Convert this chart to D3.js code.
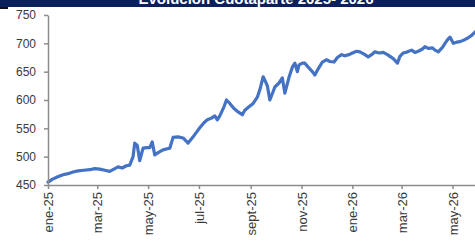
<!DOCTYPE html>
<html>
<head>
<meta charset="utf-8">
<script src="https://cdn.jsdelivr.net/npm/d3@7"></script>
<style>
  body { margin: 0; background: #fff; }
  svg { display: block; }
</style>
</head>
<body>
<div id="wrapper"></div>
<script>
const title = "Evolución Cuotaparte 2025- 2026"
const monthNames = ["ene", "feb", "mar", "abr", "may", "jun", "jul", "ago", "sept", "oct", "nov", "dic"]
const yTicks = [450, 500, 550, 600, 650, 700, 750]

const dates = [
  "2025-01-01", "2025-01-06", "2025-01-12", "2025-01-19", "2025-01-25", "2025-01-31",
  "2025-02-06", "2025-02-13", "2025-02-20", "2025-02-26", "2025-03-04", "2025-03-10",
  "2025-03-16", "2025-03-21", "2025-03-26", "2025-03-31", "2025-04-05", "2025-04-09",
  "2025-04-13", "2025-04-15", "2025-04-18", "2025-04-21", "2025-04-25", "2025-04-30",
  "2025-05-03", "2025-05-06", "2025-05-09", "2025-05-14", "2025-05-19", "2025-05-24",
  "2025-05-27", "2025-05-31", "2025-06-06", "2025-06-12", "2025-06-18", "2025-06-24",
  "2025-06-29", "2025-07-02", "2025-07-07", "2025-07-11", "2025-07-16", "2025-07-20",
  "2025-07-23", "2025-07-26", "2025-07-31", "2025-08-03", "2025-08-07", "2025-08-12",
  "2025-08-17", "2025-08-22", "2025-08-25", "2025-08-30", "2025-09-04", "2025-09-09",
  "2025-09-12", "2025-09-16", "2025-09-18", "2025-09-21", "2025-09-24", "2025-09-28",
  "2025-09-30", "2025-10-05", "2025-10-09", "2025-10-12", "2025-10-17", "2025-10-21",
  "2025-10-24", "2025-10-27", "2025-10-29", "2025-11-02", "2025-11-05", "2025-11-09",
  "2025-11-14", "2025-11-17", "2025-11-21", "2025-11-26", "2025-12-01", "2025-12-05",
  "2025-12-10", "2025-12-14", "2025-12-19", "2025-12-23", "2025-12-28", "2026-01-01",
  "2026-01-06", "2026-01-10", "2026-01-15", "2026-01-20", "2026-01-24", "2026-01-28",
  "2026-02-02", "2026-02-07", "2026-02-12", "2026-02-15", "2026-02-19", "2026-02-24",
  "2026-02-27", "2026-03-03", "2026-03-08", "2026-03-13", "2026-03-17", "2026-03-21",
  "2026-03-26", "2026-03-29", "2026-04-02", "2026-04-07", "2026-04-10", "2026-04-14",
  "2026-04-19", "2026-04-22", "2026-04-26", "2026-04-28", "2026-05-02", "2026-05-06",
  "2026-05-10", "2026-05-15", "2026-05-19", "2026-05-24", "2026-05-28"
]

const values = [
  455, 460, 464, 468, 470, 473,
  475, 476, 477, 479, 478, 476,
  474, 478, 482, 480, 484, 485,
  500, 524, 520, 493, 515, 516,
  516, 526, 503, 508, 512, 514,
  515, 534, 535, 533, 524, 535,
  545, 551, 560, 565, 568, 572,
  565, 572, 588, 600, 594, 585,
  579, 574, 582, 588, 594, 605,
  618, 641, 635, 625, 600, 615,
  623, 630, 639, 612, 640, 658,
  665, 650, 662, 665, 665, 658,
  650, 644, 655, 667, 671, 668,
  667, 675, 680, 678, 680, 683,
  686, 685, 681, 676, 680, 685,
  683, 684, 680, 677, 673, 665,
  677, 683, 685, 688, 684, 686,
  690, 694, 691, 692, 688, 685,
  693, 700, 708, 711, 700, 702,
  703, 706, 709, 714, 720
]

function drawChart() {
  const parseDate = d3.timeParse("%Y-%m-%d")
  const data = dates.map((d, i) => ({ date: parseDate(d), value: values[i] }))
  const xAccessor = d => d.date
  const yAccessor = d => d.value

  let dimensions = {
    width: 475,
    height: 245,
    margin: { top: 15, right: 0, bottom: 60, left: 48 }
  }
  dimensions.boundedWidth = dimensions.width - dimensions.margin.left - dimensions.margin.right
  dimensions.boundedHeight = dimensions.height - dimensions.margin.top - dimensions.margin.bottom

  const wrapper = d3.select("#wrapper")
    .append("svg")
      .attr("width", dimensions.width)
      .attr("height", dimensions.height)
      .style("font-family", "'Liberation Sans', Arial, sans-serif")

  // title band, cut off at the top edge like the source image
  wrapper.append("rect")
      .attr("x", 0).attr("y", 0)
      .attr("width", dimensions.width).attr("height", 7)
      .attr("fill", "#0a1f5c")
  wrapper.append("rect")
      .attr("x", 0).attr("y", 7)
      .attr("width", 8).attr("height", 2)
      .attr("fill", "#111")
  wrapper.append("text")
      .attr("x", 256)
      .attr("y", 4)
      .attr("text-anchor", "middle")
      .attr("fill", "#fff")
      .style("font-weight", "bold")
      .style("font-size", "15px")
      .text(title)

  const bounds = wrapper.append("g")
      .attr("transform", `translate(${dimensions.margin.left},${dimensions.margin.top})`)

  const xScale = d3.scaleTime()
    .domain(d3.extent(data, xAccessor))
    .range([0, dimensions.boundedWidth])

  const yScale = d3.scaleLinear()
    .domain([d3.min(yTicks), d3.max(yTicks)])
    .range([dimensions.boundedHeight, 0])

  const lineGenerator = d3.line()
    .x(d => xScale(xAccessor(d)))
    .y(d => yScale(yAccessor(d)))

  bounds.append("path")
      .datum(data)
      .attr("d", lineGenerator)
      .attr("fill", "none")
      .attr("stroke", "#4472c4")
      .attr("stroke-width", 3.2)
      .attr("stroke-linejoin", "round")
      .attr("stroke-linecap", "round")

  // axes
  const axisColor = "#8c8c8c"
  const yAxisGenerator = d3.axisLeft(yScale)
    .tickValues(yTicks)
    .tickSize(4)
    .tickSizeOuter(0)
    .tickPadding(8)
  const yAxis = bounds.append("g").call(yAxisGenerator)

  const fmtTick = d => `${monthNames[d.getMonth()]}-${d3.timeFormat("%y")(d)}`
  const xAxisGenerator = d3.axisBottom(xScale)
    .ticks(d3.timeMonth.every(2))
    .tickFormat(fmtTick)
    .tickSize(4)
    .tickSizeOuter(0)
  const xAxis = bounds.append("g")
      .attr("transform", `translate(0,${dimensions.boundedHeight})`)
      .call(xAxisGenerator)

  ;[xAxis, yAxis].forEach(axis => {
    axis.select(".domain").attr("stroke", axisColor).attr("stroke-width", 1.5)
    axis.selectAll(".tick line").attr("stroke", axisColor).attr("stroke-width", 1.5)
    axis.selectAll("text")
        .attr("fill", "#3a3a3a")
        .style("font-size", "12px")
  })

  xAxis.selectAll("text")
      .attr("transform", "rotate(-90)")
      .attr("x", -7)
      .attr("y", 0)
      .attr("dy", "0.35em")
      .style("text-anchor", "end")
      .style("font-size", "13px")
}

drawChart()
</script>
</body>
</html>
